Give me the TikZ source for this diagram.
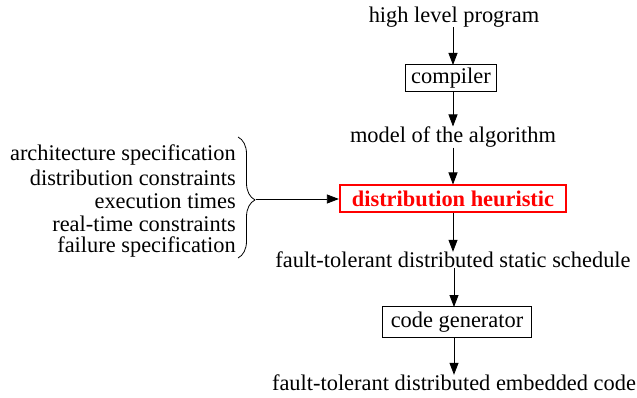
\documentclass[tikz,border=0pt]{standalone}
\usepackage{fontspec}
\setmainfont{Liberation Serif}
\usetikzlibrary{arrows.meta,decorations.pathreplacing}
\begin{document}
\begin{tikzpicture}[x=1pt,y=-1pt,
  every node/.style={font=\fontsize{22.4}{26}\selectfont, inner sep=0pt},
  lbl/.style={anchor=center},
  boxnode/.style={draw, line width=0.8pt, inner xsep=6pt, minimum height=27pt},
  redbox/.style={draw=red, line width=2pt, text=red, font=\fontsize{22.4}{26}\selectfont\bfseries, inner xsep=12pt, minimum height=27pt},
  arr/.style={-{Triangle[length=12pt,width=9pt]}, line width=0.8pt},
  leftlbl/.style={anchor=east}]
\useasboundingbox (0,0) rectangle (637,398);
\node[lbl] (hlp) at (454,17) {high level program};
\node[boxnode] (comp) at (451,78) {compiler};
\node[lbl] (model) at (453,137) {model of the algorithm};
\node[redbox] (heur) at (453,199) {distribution heuristic};
\node[lbl] (sched) at (453,260) {fault-tolerant distributed static schedule};
\node[boxnode, minimum height=31pt, inner xsep=8pt] (cg) at (457,322) {code generator};
\node[lbl] (code) at (454,383) {fault-tolerant distributed embedded code};
\node[leftlbl] (l1) at (236,155) {architecture specification};
\node[leftlbl] (l2) at (236,178) {distribution constraints};
\node[leftlbl] (l3) at (236,201) {execution times};
\node[leftlbl] (l4) at (236,224) {real-time constraints};
\node[leftlbl] (l5) at (236,247) {failure specification};
\coordinate (btop) at (238,137);
\coordinate (bbot) at (238,258);
\coordinate (btip) at (256,199);
\draw[line width=0.8pt, decorate, decoration={brace, amplitude=17pt, aspect=0.52}] (btop) -- (bbot);
\draw[arr] (btip) -- (heur.west);
\draw[arr] (hlp.south -| 453,0) -- (453,65);
\draw[arr] (453,91) -- (model.north -| 453,0);
\draw[arr] (model.south -| heur.north) -- (heur.north);
\draw[arr] (heur.south) -- (heur.south |- sched.north);
\draw[arr] (sched.south -| 454,0) -- (454,307);
\draw[arr] (454,338) -- (code.north -| 454,0);
\end{tikzpicture}
\end{document}
